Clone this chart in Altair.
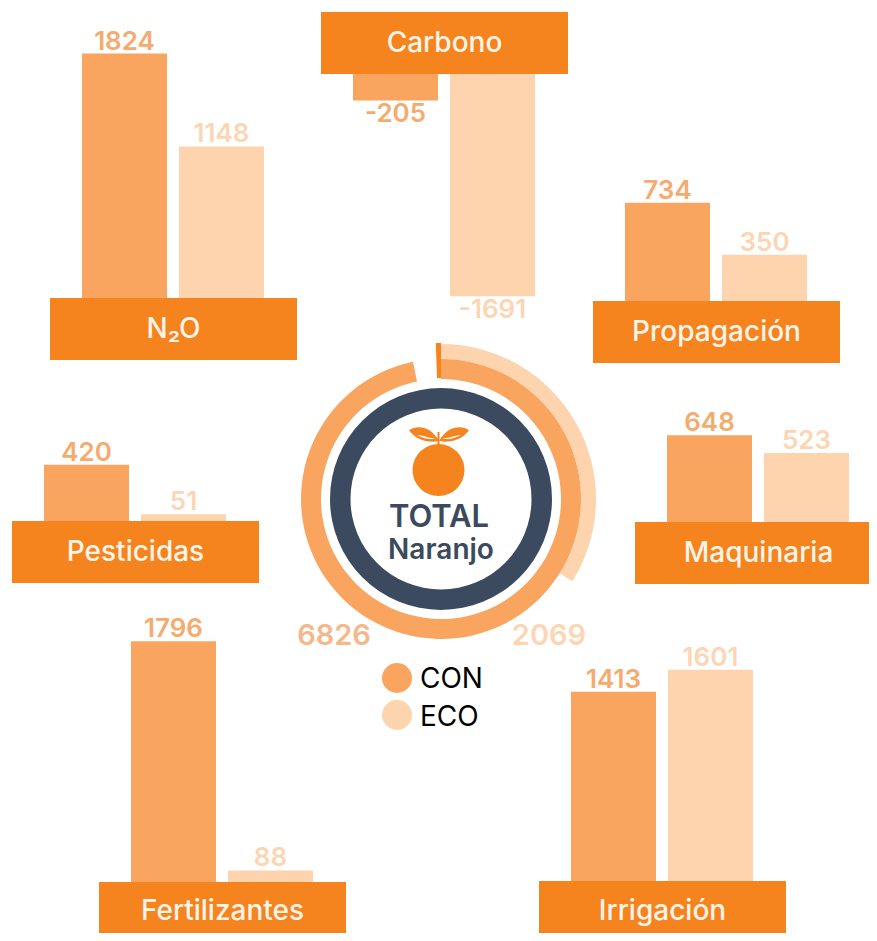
import math
import altair as alt
import pandas as pd

categories = ["N₂O", "Carbono", "Propagación", "Pesticidas", "Maquinaria", "Fertilizantes", "Irrigación"]
con_values = [1824, -205, 734, 420, 648, 1796, 1413]
eco_values = [1148, -1691, 350, 51, 523, 88, 1601]
total_con = 6826
total_eco = 2069
series_names = ["CON", "ECO"]

# layout of the category blocks in the picture (header left, header top)
header_left = [50, 321, 593, 12, 635, 99, 539]
header_top = [298, 12, 301, 521, 522, 882, 881]

FONT = "Inter"
ORANGE = "#f5841f"
CON_COLOR = "#f9a55f"
ECO_COLOR = "#fdd4ae"
CON_TEXT = "#f6ab6e"
ECO_TEXT = "#fcd6b4"
DARK = "#3b4a5e"
HEADER_W, HEADER_H = 247, 62
BAR_W = 85
PX_PER_UNIT = {"CON": 0.134, "ECO": 0.132}
DEG_PER_UNIT = {"CON": 0.05105, "ECO": 0.059}
CX, CY = 441, 499

bars, labels, headers = [], [], []
for i, name in enumerate(categories):
    left, top = header_left[i], header_top[i]
    headers.append({"name": name, "x0": left, "x1": left + HEADER_W, "y0": top,
                    "y1": top + HEADER_H, "tx": left + HEADER_W / 2,
                    "ty": min(top + HEADER_H / 2 + 1, 912)})
    for s, val, off in (("CON", con_values[i], 32), ("ECO", eco_values[i], 129)):
        base = top if val > 0 else top + HEADER_H - 1
        end = base - val * PX_PER_UNIT[s]
        bars.append({"series": s, "x0": left + off, "x1": left + off + BAR_W, "y0": base, "y1": end})
        labels.append({"series": s, "label": str(val), "x": left + off + BAR_W / 2,
                       "y": end - 12 if val > 0 else end + 14})

bars = pd.DataFrame(bars)
labels = pd.DataFrame(labels)
headers = pd.DataFrame(headers)

x_scale = alt.Scale(domain=[8, 869], nice=False, zero=False)
y_scale = alt.Scale(domain=[933, 8], nice=False, zero=False)
X = lambda f="x": alt.X(f"{f}:Q", scale=x_scale, axis=None)
Y = lambda f="y": alt.Y(f"{f}:Q", scale=y_scale, axis=None)
color = alt.Color("series:N", scale=alt.Scale(domain=series_names, range=[CON_COLOR, ECO_COLOR]), legend=None)

bar_layer = alt.Chart(bars).mark_rect(clip=True).encode(
    x=X("x0"), x2="x1:Q", y=Y("y0"), y2="y1:Q", color=color)
label_layer = alt.Chart(labels).mark_text(font=FONT, fontSize=26, fontWeight=600).encode(
    x=X(), y=Y(), text="label:N", color=alt.Color("series:N", scale=alt.Scale(domain=series_names, range=[CON_TEXT, ECO_TEXT]), legend=None))
header_layer = alt.Chart(headers).mark_rect(clip=True, color=ORANGE).encode(
    x=X("x0"), x2="x1:Q", y=Y("y0"), y2="y1:Q")
header_text = alt.Chart(headers).mark_text(font=FONT, fontSize=28, fontWeight=500, color="#fff4ea", clip=True).encode(
    x=X("tx"), y=Y("ty"), text="name:N")


def arc_layer(start_deg, end_deg, r_in, r_out, fill):
    df = pd.DataFrame({"x": [CX], "y": [CY], "t0": [math.radians(start_deg)], "t1": [math.radians(end_deg)]})
    return alt.Chart(df).mark_arc(radius=r_out, radius2=r_in, color=fill).encode(
        x=X(), y=Y(), theta=alt.Theta("t0:Q", scale=None), theta2="t1:Q")


con_arc = arc_layer(0, total_con * DEG_PER_UNIT["CON"], 120, 140, CON_COLOR)
eco_arc = arc_layer(0, total_eco * DEG_PER_UNIT["ECO"], 140, 155, ECO_COLOR)
start_tick = arc_layer(358.1, 360, 121, 156, ORANGE)
ring = arc_layer(0, 360, 90.5, 111, DARK)

fruit = alt.Chart(pd.DataFrame({"x": [438.5], "y": [470]})).mark_point(
    shape="circle", filled=True, size=2704, color=ORANGE, opacity=1).encode(x=X(), y=Y())
stem = alt.Chart(pd.DataFrame({"x": [438.5], "y": [432], "y2": [446]})).mark_rule(
    color=ORANGE, strokeWidth=2).encode(x=X(), y=Y(), y2="y2:Q")
leaf_left = "M-1,-0.32 C-0.45,-0.72 0.5,-0.55 1,0.4 C0.3,0.55 -0.5,0.35 -1,-0.32 Z"
leaf_right = "M1,-0.32 C0.45,-0.72 -0.5,-0.55 -1,0.4 C-0.3,0.55 0.5,0.35 1,-0.32 Z"
vein_left = "M-1,-0.1 C-0.4,-0.1 0.4,0.3 1,0.25 C0.4,0.5 -0.4,0.2 -1,-0.1 Z"
vein_right = "M1,-0.1 C0.4,-0.1 -0.4,0.3 -1,0.25 C-0.4,0.5 0.4,0.2 1,-0.1 Z"
leaves = alt.layer(*[
    alt.Chart(pd.DataFrame({"x": [px], "y": [py]})).mark_point(
        shape=path, filled=True, size=sz, color=fill, opacity=1).encode(x=X(), y=Y())
    for px, py, path, sz, fill in (
        (424, 435, leaf_left, 900, ORANGE), (454, 435, leaf_right, 900, ORANGE),
        (426, 436, vein_left, 330, "#ffffff"), (452, 436, vein_right, 330, "#ffffff"))
])

center_text = pd.DataFrame({"t": ["TOTAL", "Naranjo"], "x": [439, 441], "y": [518, 551], "s": [31, 28]})
center_layers = [
    alt.Chart(center_text.iloc[[i]]).mark_text(font=FONT, fontSize=int(center_text.s[i]), fontWeight=600, color=DARK).encode(
        x=X(), y=Y(), text="t:N") for i in range(2)
]

totals = pd.DataFrame({"series": series_names, "label": [str(total_con), str(total_eco)], "x": [334, 549], "y": [636, 636]})
total_layer = alt.Chart(totals).mark_text(font=FONT, fontSize=29, fontWeight=600).encode(
    x=X(), y=Y(), text="label:N", color=alt.Color("series:N", scale=alt.Scale(domain=series_names, range=["#f5b88a", ECO_TEXT]), legend=None))

legend_df = pd.DataFrame({"series": series_names, "x": [397, 397], "tx": [420, 420], "y": [678, 715], "ty": [680, 718]})
legend_dots = alt.Chart(legend_df).mark_point(shape="circle", filled=True, size=900, opacity=1).encode(
    x=X(), y=Y(), color=color)
legend_text = alt.Chart(legend_df).mark_text(font=FONT, fontSize=28, fontWeight=400, align="left", color="#000000").encode(
    x=X("tx"), y=Y("ty"), text="series:N")

chart = alt.layer(
    bar_layer, label_layer, header_layer, header_text,
    eco_arc, con_arc, start_tick, ring,
    leaves, stem, fruit, *center_layers,
    total_layer, legend_dots, legend_text,
).resolve_scale(color="independent").properties(
    width=861, height=925, padding=0, autosize=alt.AutoSizeParams(type="none"),
    background="white",
).configure_view(stroke=None)

chart.save("out.html", embed_options={"renderer": "svg", "actions": False})
